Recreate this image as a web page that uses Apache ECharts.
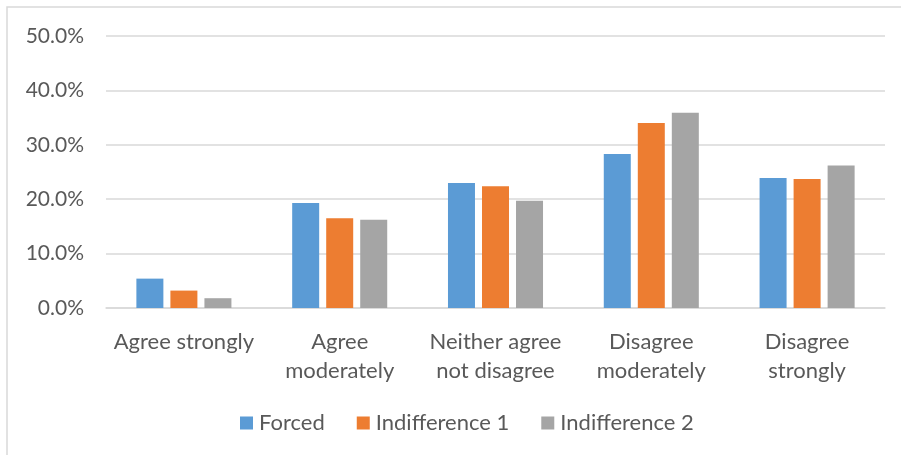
<!DOCTYPE html>
<html>
<head>
<meta charset="utf-8">
<script src="https://cdn.jsdelivr.net/npm/echarts@6/dist/echarts.min.js"></script>
<style>
  html, body { margin: 0; padding: 0; background: #ffffff; }
  #chart { width: 901px; height: 455px; }
</style>
</head>
<body>
<div id="chart"></div>
<script>
// Response categories (line breaks as displayed under the axis)
const categories = [
  'Agree strongly',
  'Agree\nmoderately',
  'Neither agree\nnot disagree',
  'Disagree\nmoderately',
  'Disagree\nstrongly'
];

// Share of responses per condition, in percent
const forced = [5.4, 19.3, 23.0, 28.3, 23.9];
const indifference1 = [3.2, 16.5, 22.4, 34.0, 23.7];
const indifference2 = [1.8, 16.2, 19.7, 35.9, 26.2];

const seriesNames = ['Forced', 'Indifference 1', 'Indifference 2'];
const seriesColors = ['#5B9BD5', '#ED7D31', '#A5A5A5'];

const FONT = 'Lato, "Open Sans", sans-serif';
const TEXT = '#595959';
const GRID = '#d9d9d9';

const chart = echarts.init(document.getElementById('chart'), null, { renderer: 'canvas' });

const values = [forced, indifference1, indifference2];

chart.setOption({
  animation: false,
  backgroundColor: '#ffffff',
  textStyle: { fontFamily: FONT, color: TEXT },
  graphic: [{
    type: 'rect',
    shape: { x: 7, y: 7, width: 1200, height: 1200 },
    style: { fill: 'none', stroke: GRID, lineWidth: 1.5 },
    silent: true,
    z: -1
  }],
  grid: { left: 106, right: 16, top: 36, bottom: 147 },
  legend: {
    data: seriesNames,
    left: 235,
    top: 407,
    itemWidth: 13,
    itemHeight: 13,
    itemGap: 32,
    icon: 'rect',
    textStyle: { fontFamily: FONT, fontSize: 22, color: TEXT, padding: [0, 0, 0, 1] }
  },
  xAxis: {
    type: 'category',
    data: categories,
    axisLine: { show: true, lineStyle: { color: GRID, width: 1.5 } },
    axisTick: { show: false },
    axisLabel: {
      interval: 0,
      margin: 19,
      fontFamily: FONT,
      fontSize: 22,
      lineHeight: 29,
      color: TEXT
    }
  },
  yAxis: {
    type: 'value',
    min: 0,
    max: 50,
    interval: 10,
    axisLine: { show: false },
    axisTick: { show: false },
    splitLine: { lineStyle: { color: GRID, width: 1.5 } },
    axisLabel: {
      margin: 22,
      fontFamily: FONT,
      fontSize: 21,
      color: TEXT,
      formatter: v => v.toFixed(1) + '%'
    }
  },
  series: seriesNames.map((name, i) => ({
    name: name,
    type: 'bar',
    data: values[i],
    barWidth: 27,
    barGap: '26%',
    itemStyle: { color: seriesColors[i] }
  }))
});
</script>
</body>
</html>
